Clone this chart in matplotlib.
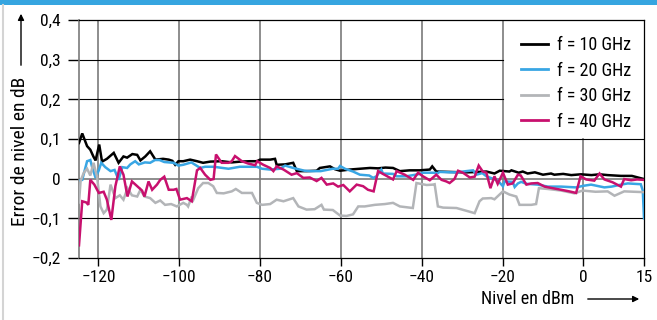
import matplotlib
matplotlib.use("Agg")
import matplotlib.pyplot as plt
from matplotlib.patches import Rectangle, FancyArrowPatch
from matplotlib.lines import Line2D

plt.rcParams['font.family'] = ['Roboto Condensed', 'DejaVu Sans']
plt.rcParams['font.stretch'] = 'condensed'

# Level error versus input level, per frequency
x_10 = [-124.8, -124.0, -122.8, -122.0, -121.2, -120.7, -119.8, -119.1, -117.9, -116.2,
        -115.0, -113.8, -112.9, -111.6, -110.4, -109.6, -108.4, -107.2, -105.9, -104.0,
        -102.6, -101.7, -101.0, -100.2, -99.0, -97.3, -95.6, -94.1, -92.3, -89.5,
        -87.0, -84.9, -82.5, -80.8, -80.0, -77.5, -76.3, -75.9, -73.8, -71.8,
        -70.9, -68.5, -66.0, -65.2, -62.7, -61.5, -60.2, -57.8, -55.3, -52.8,
        -50.8, -49.0, -47.1, -45.4, -43.0, -40.5, -38.0, -37.4, -36.4, -33.1,
        -30.0, -28.6, -26.0, -24.0, -22.0, -20.7, -18.3, -17.8, -16.0, -15.0,
        -13.8, -12.0, -10.0, -8.0, -7.2, -5.0, -3.0, -0.6, 2.0, 4.0,
        6.0, 9.3, 12.0, 15.0]
y_10 = [0.090, 0.114, 0.082, 0.073, 0.055, 0.046, 0.086, 0.043, 0.050, 0.065,
        0.040, 0.056, 0.053, 0.062, 0.060, 0.046, 0.056, 0.069, 0.048, 0.050,
        0.048, 0.045, 0.035, 0.044, 0.044, 0.048, 0.044, 0.040, 0.043, 0.044,
        0.041, 0.043, 0.044, 0.044, 0.048, 0.048, 0.050, 0.035, 0.036, 0.040,
        0.019, 0.019, 0.020, 0.027, 0.031, 0.024, 0.020, 0.023, 0.025, 0.027,
        0.026, 0.028, 0.027, 0.019, 0.021, 0.021, 0.023, 0.031, 0.018, 0.017,
        0.016, 0.016, 0.017, 0.018, 0.013, 0.020, 0.018, 0.021, 0.015, 0.018,
        0.013, 0.016, 0.010, 0.013, 0.010, 0.012, 0.009, 0.011, 0.009, 0.011,
        0.009, 0.007, 0.007, -0.001]

x_20 = [-124.8, -124.0, -122.8, -122.0, -121.6, -120.7, -119.9, -119.3, -118.3, -117.0,
        -116.0, -115.0, -114.1, -112.9, -112.1, -110.9, -110.0, -108.5, -107.2, -106.0,
        -104.9, -103.7, -101.4, -100.2, -99.0, -97.0, -94.8, -93.6, -91.5, -87.8,
        -85.0, -80.8, -79.5, -77.5, -75.1, -73.8, -71.8, -69.0, -67.7, -65.0,
        -62.0, -60.7, -60.2, -59.0, -57.0, -55.3, -53.0, -52.0, -51.2, -50.0,
        -49.6, -47.1, -46.2, -43.8, -42.1, -40.5, -39.7, -37.2, -36.0, -35.6,
        -33.0, -31.0, -29.8, -27.3, -26.5, -25.0, -24.0, -22.4, -21.2, -19.9,
        -19.5, -17.5, -17.0, -16.2, -15.4, -14.1, -11.3, -8.8, -5.5, -1.8,
        0.0, 1.9, 5.2, 7.0, 9.3, 11.0, 14.2, 14.7, 15.0]
y_20 = [-0.005, -0.003, 0.044, 0.047, 0.031, 0.002, 0.021, 0.040, 0.029, 0.019,
        0.022, -0.003, 0.029, 0.027, 0.036, 0.044, 0.036, 0.041, 0.040, 0.047,
        0.047, 0.042, 0.040, 0.033, 0.035, 0.041, 0.027, 0.030, 0.030, 0.025,
        0.030, 0.030, 0.025, 0.023, 0.025, 0.033, 0.027, 0.020, 0.019, 0.019,
        0.025, 0.025, 0.032, 0.025, 0.018, 0.010, 0.008, 0.002, 0.006, 0.023,
        0.013, 0.012, 0.006, 0.006, 0.009, 0.012, 0.015, 0.015, 0.014, 0.017,
        0.016, 0.016, 0.018, 0.021, 0.010, 0.014, 0.006, 0.000, -0.005, -0.019,
        -0.007, -0.008, -0.021, -0.012, -0.008, -0.013, -0.015, -0.020, -0.020, -0.022,
        -0.018, -0.015, -0.022, -0.020, -0.015, -0.012, -0.014, -0.030, -0.100]

x_30 = [-124.8, -124.4, -123.6, -122.8, -122.0, -121.2, -120.3, -119.5, -118.7, -117.9,
        -117.0, -115.8, -114.7, -113.8, -112.8, -111.7, -110.4, -109.6, -108.6, -107.2,
        -105.9, -104.7, -103.5, -102.0, -100.6, -99.0, -98.1, -97.8, -96.9, -96.5,
        -95.3, -94.1, -92.8, -91.6, -90.7, -89.0, -87.0, -86.0, -84.5, -82.0,
        -80.8, -79.5, -77.5, -75.9, -74.2, -71.8, -70.5, -68.5, -66.5, -64.8,
        -64.2, -62.0, -60.2, -58.6, -57.0, -55.7, -54.1, -51.6, -49.1, -47.1,
        -45.4, -43.0, -42.2, -41.3, -38.8, -37.2, -36.8, -36.0, -34.7, -31.4,
        -28.6, -26.9, -25.7, -24.9, -22.8, -22.0, -19.9, -18.3, -16.6, -15.8,
        -12.9, -11.7, -11.0, -8.8, -5.5, -2.2, -0.2, 3.0, 6.0, 7.7,
        10.1, 12.5, 15.0]
y_30 = [-0.060, -0.005, 0.015, 0.025, 0.008, 0.040, 0.003, -0.070, -0.087, -0.078,
        -0.015, -0.049, -0.042, -0.053, -0.024, -0.042, -0.045, -0.028, -0.045, -0.049,
        -0.061, -0.055, -0.066, -0.064, -0.070, -0.061, -0.066, -0.070, -0.045, -0.053,
        -0.024, -0.011, -0.011, -0.019, -0.036, -0.037, -0.032, -0.026, -0.036, -0.036,
        -0.061, -0.066, -0.064, -0.053, -0.057, -0.049, -0.070, -0.078, -0.077, -0.066,
        -0.078, -0.079, -0.093, -0.094, -0.090, -0.070, -0.070, -0.066, -0.064, -0.061,
        -0.070, -0.073, -0.074, -0.011, -0.016, -0.015, -0.014, -0.070, -0.073, -0.074,
        -0.082, -0.087, -0.057, -0.050, -0.049, -0.052, -0.032, -0.040, -0.045, -0.066,
        -0.066, -0.064, -0.024, -0.026, -0.030, -0.037, -0.030, -0.033, -0.032, -0.043,
        -0.032, -0.033, -0.034]

x_40 = [-124.8, -124.0, -123.0, -122.5, -122.0, -121.0, -119.9, -118.7, -117.9, -116.8,
        -115.8, -114.7, -113.8, -112.8, -111.7, -110.5, -109.2, -108.6, -107.6, -106.7,
        -105.5, -104.7, -103.7, -102.6, -101.4, -100.7, -99.8, -98.1, -96.9, -95.6,
        -94.8, -93.6, -92.3, -91.5, -90.9, -89.5, -87.8, -87.0, -86.2, -84.5,
        -82.9, -81.2, -80.7, -79.2, -77.5, -76.7, -75.9, -74.2, -72.2, -70.9,
        -69.3, -67.7, -66.0, -64.8, -63.5, -61.9, -60.7, -59.4, -57.8, -56.1,
        -54.5, -53.3, -51.9, -50.8, -49.6, -47.1, -46.2, -44.2, -42.1, -40.9,
        -39.7, -38.0, -36.4, -35.1, -33.9, -33.1, -31.9, -31.0, -29.8, -28.1,
        -26.9, -25.9, -24.9, -24.0, -23.0, -22.0, -21.2, -19.9, -18.7, -17.5,
        -16.2, -15.5, -14.1, -12.9, -11.3, -9.6, -7.6, -5.5, -3.5, -1.8,
        -0.7, 0.7, 2.7, 4.0, 5.2, 7.2, 9.3, 10.1, 11.8, 13.3,
        15.0]
y_40 = [-0.168, -0.057, -0.060, -0.066, -0.003, -0.015, -0.036, -0.033, -0.053, -0.104,
        -0.019, 0.031, 0.010, -0.045, -0.007, -0.018, -0.030, -0.045, -0.007, -0.028,
        -0.015, -0.003, 0.005, -0.028, -0.028, -0.026, -0.053, -0.049, -0.057, 0.021,
        0.027, 0.010, -0.003, -0.001, 0.061, 0.040, 0.040, 0.044, 0.057, 0.044,
        0.038, 0.034, 0.044, 0.035, 0.027, 0.019, 0.031, 0.023, 0.010, 0.014,
        0.002, 0.003, -0.006, 0.002, -0.015, -0.012, -0.020, -0.016, -0.032, -0.015,
        -0.019, -0.028, -0.032, 0.019, 0.012, -0.002, 0.019, 0.010, -0.003, 0.015,
        0.006, -0.004, 0.010, -0.003, -0.007, -0.011, -0.001, 0.020, 0.015, 0.003,
        0.005, 0.033, 0.018, 0.015, -0.024, 0.006, -0.013, 0.015, -0.015, -0.012,
        0.010, 0.008, -0.015, -0.012, -0.011, -0.020, -0.024, -0.028, -0.032, -0.036,
        0.006, -0.002, -0.005, 0.013, -0.002, -0.009, -0.020, -0.001, -0.004, -0.002,
        -0.003]

labels = ['f = 10 GHz', 'f = 20 GHz', 'f = 30 GHz', 'f = 40 GHz']
colors = ['#000000', '#39a6e4', '#b3b5b8', '#c8106e']

x_ticks = [-120, -100, -80, -60, -40, -20, 0, 15]
y_ticks = [-0.2, -0.1, 0.0, 0.1, 0.2, 0.3, 0.4]
y_ticklabels = ['\u22120,2', '\u22120,1', '0', '0,1', '0,2', '0,3', '0,4']
x_ticklabels = ['\u2212120', '\u2212100', '\u221280', '\u221260', '\u221240', '\u221220', '0', '15']

fig = plt.figure(figsize=(6.57, 3.2), dpi=100)
fig.patch.set_facecolor('white')

# top banner and left border
fig.patches.append(Rectangle((0, 1 - 5 / 320), 1, 5 / 320, transform=fig.transFigure,
                             facecolor='#36a5e0', edgecolor='none', zorder=0))
fig.lines.append(Line2D([3 / 657, 3 / 657], [0, 1 - 5 / 320], transform=fig.transFigure,
                        color='#d4d4d4', lw=1.5))

ax = fig.add_axes([79 / 657, 62 / 320, (644 - 79) / 657, (258 - 20) / 320])
xmin, xmax = -124.8, 15.0
ax.set_xlim(xmin, xmax)
ax.set_ylim(-0.2, 0.4)

grid_gray = '#7a7a7a'
# vertical grid (the legend sits in the upper right cells, so stop short there)
for xv in x_ticks[:-1]:
    top = 0.1 if xv > -20 else 0.4
    ax.plot([xv, xv], [-0.2, top], color=grid_gray, lw=1.2, zorder=1)
# horizontal grid
for yv in [0.3, 0.2]:
    ax.plot([xmin, -20], [yv, yv], color='black', lw=0.8, zorder=1)
for yv in [0.1, -0.1]:
    ax.plot([xmin, xmax], [yv, yv], color='black', lw=0.8, zorder=1)
ax.plot([xmin, xmax], [0, 0], color=grid_gray, lw=1.2, zorder=1)

series = [(x_10, y_10), (x_20, y_20), (x_30, y_30), (x_40, y_40)]
draw_order = [2, 3, 1, 0]
handles = [None] * 4
for i in draw_order:
    xs, ys = series[i]
    ln, = ax.plot(xs, ys, color=colors[i], lw=1.8, zorder=3 + i * 0.1,
                  solid_joinstyle='miter')
    handles[i] = ln

for side in ['top', 'right', 'bottom']:
    ax.spines[side].set_color('black')
    ax.spines[side].set_linewidth(0.9)
ax.spines['left'].set_color(grid_gray)
ax.spines['left'].set_linewidth(1.2)

ax.set_xticks(x_ticks)
ax.set_xticklabels(x_ticklabels)
ax.set_yticks(y_ticks)
ax.set_yticklabels(y_ticklabels)
ax.tick_params(axis='x', direction='out', length=6, width=1.0, color='black',
               labelsize=12.5, pad=3)
ax.tick_params(axis='y', direction='out', length=8, width=1.0, color='black',
               labelsize=12.5, pad=5)

leg = ax.legend([handles[i] for i in range(4)], labels, loc='upper left',
                bbox_to_anchor=((521 - 79) / 565, 1 - (36 - 20) / 238),
                frameon=False, fontsize=13, borderpad=0, borderaxespad=0,
                handlelength=1.5, handletextpad=0.5, labelspacing=0.42)
for lh in leg.get_lines():
    lh.set_linewidth(2.0)

# axis titles with arrows
fig.text(20 / 657, 1 - 151 / 320, 'Error de nivel en dB', rotation=90,
         ha='center', va='center', fontsize=14)
fig.patches.append(FancyArrowPatch(
    (21 / 657, 1 - 68 / 320), (21 / 657, 1 - 11 / 320), transform=fig.transFigure,
    arrowstyle='-|>', mutation_scale=9, color='black', lw=1.0))
fig.text(574 / 657, 1 - 299 / 320, 'Nivel en dBm', ha='right', va='center', fontsize=13)
fig.patches.append(FancyArrowPatch(
    (585 / 657, 1 - 299 / 320), (642 / 657, 1 - 299 / 320), transform=fig.transFigure,
    arrowstyle='-|>', mutation_scale=9, color='black', lw=1.0))

fig.savefig('out.png', dpi=100)
